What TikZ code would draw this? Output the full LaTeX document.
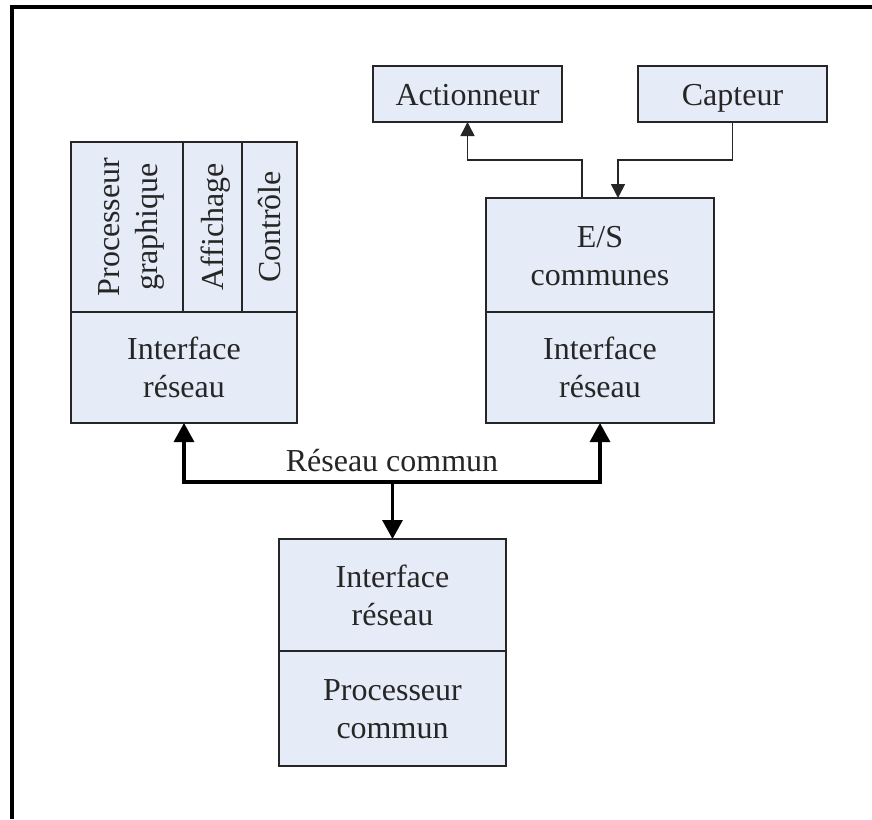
\documentclass[tikz,border=0pt]{standalone}
\usepackage{fontspec}
\setmainfont{Liberation Serif}
\usetikzlibrary{arrows.meta}
\definecolor{boxfill}{HTML}{E6ECF7}
\definecolor{inkgray}{HTML}{262626}
% one text line with a fixed height and depth, so lines sit alike in every box
\newcommand{\txtline}[1]{\rule[-8pt]{0pt}{38pt}#1}
\begin{document}
\begin{tikzpicture}[x=1pt,y=-1pt,
  label text/.style={align=center, text=inkgray, inner sep=0pt, font=\fontsize{32}{38}\selectfont},
  cell/.style={label text, draw=black!85, line width=1.6pt, fill=boxfill, outer sep=0pt},
  thin link/.style={draw=black!85, line width=1.6pt, -{Triangle[length=14pt,width=14pt]}},
  bus/.style={draw=black, line width=3.2pt},
  bus tip/.style={-{Triangle[length=19pt,width=20pt]}}]
  \useasboundingbox (0,0) rectangle (872,819);
  % frame (left and top rules)
  \draw[line width=3.2pt] (12,819) -- (12,7) -- (872,7);

  % left unit: rotated cells above the network interface
  \node[cell, minimum width=112pt, minimum height=170pt] (procg) at (127,227) {};
  \node[label text, rotate=90] (procgtxt) at (procg.center) {\txtline{Processeur}\\\txtline{graphique}};
  \node[cell, minimum width=59pt, minimum height=170pt] (aff) at (212.5,227) {};
  \node[label text, rotate=90] (afftxt) at (aff.center) {\txtline{Affichage}};
  \node[cell, minimum width=55pt, minimum height=170pt] (ctl) at (269.5,227) {};
  \node[label text, rotate=90] (ctltxt) at (ctl.center) {\txtline{Contrôle}};
  \node[cell, minimum width=226pt, minimum height=111pt] (ifl) at (184,367.5) {\txtline{Interface}\\\txtline{réseau}};

  % right unit
  \node[cell, minimum width=228pt, minimum height=114pt] (es) at (600,255) {\txtline{E/S}\\\txtline{communes}};
  \node[cell, minimum width=228pt, minimum height=111pt] (ifr) at (600,367.5) {\txtline{Interface}\\\txtline{réseau}};

  % bottom unit
  \node[cell, minimum width=227pt, minimum height=112pt] (ifb) at (392.5,595) {\txtline{Interface}\\\txtline{réseau}};
  \node[cell, minimum width=227pt, minimum height=115pt] (pc) at (392.5,708.5) {\txtline{Processeur}\\\txtline{commun}};

  % actuator and sensor
  \node[cell, minimum width=189pt, minimum height=56pt] (act) at (467.5,94) {\txtline{Actionneur}};
  \node[cell, minimum width=189pt, minimum height=56pt] (cap) at (732.5,94) {\txtline{Capteur}};

  \coordinate (ioY) at (600,160);
  \draw[thin link] ([xshift=-18pt]es.north) -- ([xshift=-18pt]es.north |- ioY) -- (act.south |- ioY) -- (act.south);
  \draw[thin link] (cap.south) -- (cap.south |- ioY) -- ([xshift=18pt]es.north |- ioY) -- ([xshift=18pt]es.north);

  % common network
  \coordinate (busY) at (392,482);
  \draw[bus, {Triangle[length=19pt,width=20pt]}-{Triangle[length=19pt,width=20pt]}]
    (ifl.south) -- (ifl.south |- busY) -- (ifr.south |- busY) -- (ifr.south);
  \draw[bus, bus tip] (ifb.north |- busY) -- (ifb.north);
  \node[label text] (netlabel) at (392,460) {\txtline{Réseau commun}};
\end{tikzpicture}
\end{document}
